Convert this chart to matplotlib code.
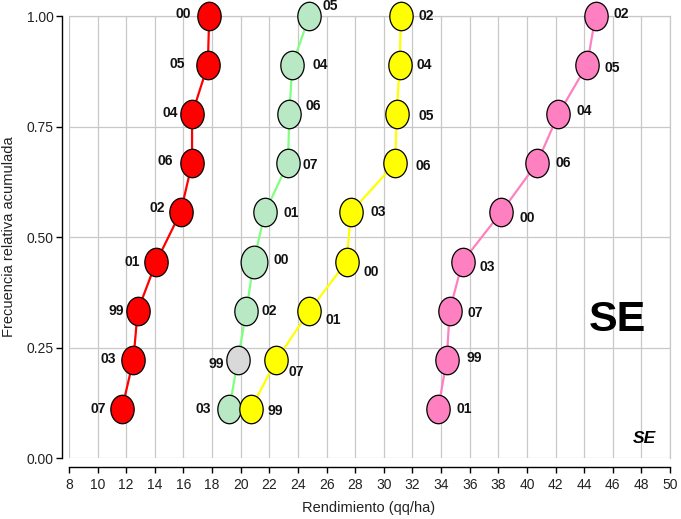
import matplotlib
matplotlib.use("Agg")
import matplotlib.pyplot as plt
from matplotlib.path import Path
from matplotlib.transforms import Affine2D

plt.rcParams['font.family'] = ['Liberation Sans', 'DejaVu Sans']

# Cumulative relative frequency of each ranked campaign (9 campaigns)
freq = [0.111, 0.222, 0.333, 0.444, 0.556, 0.667, 0.778, 0.889, 1.000]

# Yields (qq/ha) sorted ascending, with the campaign year of each point
red_years = ['07', '03', '99', '01', '02', '06', '04', '05', '00']
red_yield = [11.7, 12.5, 12.8, 14.1, 15.8, 16.6, 16.6, 17.7, 17.8]

green_years = ['03', '99', '02', '00', '01', '07', '06', '04', '05']
green_yield = [19.2, 19.8, 20.4, 20.9, 21.7, 23.3, 23.4, 23.6, 24.8]

yellow_years = ['99', '07', '01', '00', '03', '06', '05', '04', '02']
yellow_yield = [20.7, 22.5, 24.8, 27.4, 27.7, 30.8, 30.9, 31.1, 31.2]

pink_years = ['01', '99', '07', '03', '00', '06', '04', '05', '02']
pink_yield = [33.8, 34.4, 34.6, 35.5, 38.2, 40.7, 42.2, 44.2, 44.8]

x_ticks = list(range(8, 51, 2))
y_ticks = [0.00, 0.25, 0.50, 0.75, 1.00]
y_tick_labels = ['0.00', '0.25', '0.50', '0.75', '1.00']

# ---- styling: label offsets (pixels) and per-point marker looks ----
red_style = dict(
    line='#ff0000', fill=['#ff0000'] * 9, size=[20.5] * 9,
    ha=['right'] * 9,
    off=[(-16, 0), (-17, 1), (-14, 0), (-16, 0), (-16, 4), (-19, 2),
         (-14, 1), (-23, 1), (-18, 2)])
green_style = dict(
    line='#80ff80',
    fill=['#b8e8c4', '#d9d9d9'] + ['#b8e8c4'] * 7,
    size=[20.5, 20.5, 20.5, 23.5, 20.5, 20.5, 20.5, 20.5, 20.5],
    ha=['right', 'right'] + ['left'] * 7,
    off=[(-18, 0), (-14, -4), (15, 0), (20, 2), (18, -1), (15, -2),
         (16, 8), (20, 0), (13, 10)])
yellow_style = dict(
    line='#ffff00', fill=['#ffff00'] * 9, size=[20.5] * 9,
    ha=['left'] * 9,
    off=[(17, -2), (12, -12), (16, -9), (17, -10), (20, 0), (20, -3),
         (22, -2), (17, 0), (18, 0)])
pink_style = dict(
    line='#ff80c0', fill=['#ff80c0'] * 9, size=[20.5] * 9,
    ha=['left'] * 9,
    off=[(18, 0), (20, 2), (18, -2), (17, -5), (18, -6), (19, 0),
         (18, 3), (17, -3), (18, 2)])

series = [
    (red_yield, red_years, red_style),
    (green_yield, green_years, green_style),
    (yellow_yield, yellow_years, yellow_style),
    (pink_yield, pink_years, pink_style),
]

# Slightly tall ellipse marker
ellipse = Path.unit_circle().transformed(Affine2D().scale(0.82, 1.0))

fig = plt.figure(figsize=(6.81, 5.19), dpi=100)
ax = fig.add_axes([69 / 681, 1 - 458 / 519, 601 / 681, 442 / 519])

ax.set_xlim(8, 50)
ax.set_ylim(0, 1)
ax.set_xticks(x_ticks)
ax.set_yticks(y_ticks)
ax.set_yticklabels(y_tick_labels)
ax.set_axisbelow(True)
ax.grid(True, color='#c8c8c8', lw=0.9)

for s in ('top', 'right'):
    ax.spines[s].set_color('#c8c8c8')
    ax.spines[s].set_linewidth(0.9)
ax.spines['left'].set_position(('outward', 5))
ax.spines['bottom'].set_position(('outward', 6.5))
for s in ('left', 'bottom'):
    ax.spines[s].set_color('black')
    ax.spines[s].set_linewidth(1.0)

ax.tick_params(axis='both', direction='out', length=4, width=1.0,
               colors='black', labelsize=10, labelcolor='#222222')
ax.tick_params(axis='x', pad=4)
ax.tick_params(axis='y', pad=2)

for yields, years, st in series:
    ax.plot(yields, freq, color=st['line'], lw=1.6, zorder=3, clip_on=False)
    for i, (xv, yv) in enumerate(zip(yields, freq)):
        ax.plot([xv], [yv], linestyle='none', marker=ellipse,
                ms=st['size'][i], mfc=st['fill'][i], mec='black', mew=0.9,
                zorder=4, clip_on=False)
        ax.annotate(years[i], (xv, yv), xytext=st['off'][i],
                    textcoords='offset pixels', ha=st['ha'][i], va='center',
                    fontsize=10, fontweight='bold', color='#111111',
                    zorder=5, annotation_clip=False)

ax.text(0.912, 0.312, 'SE', transform=ax.transAxes, ha='center',
        va='center', fontsize=31, fontweight='bold', color='black')
ax.text(0.957, 0.045, 'SE', transform=ax.transAxes, ha='center',
        va='center', fontsize=12.5, fontweight='bold', style='italic',
        color='black')

fig.text(369 / 681, 1 - 508 / 519, 'Rendimiento (qq/ha)', ha='center',
         va='center', fontsize=10.5, color='#222222')
fig.text(9 / 681, 1 - 237 / 519, 'Frecuencia relativa acumulada',
         ha='center', va='center', rotation=90, fontsize=10.5,
         color='#222222')

fig.savefig('out.png', dpi=100)
